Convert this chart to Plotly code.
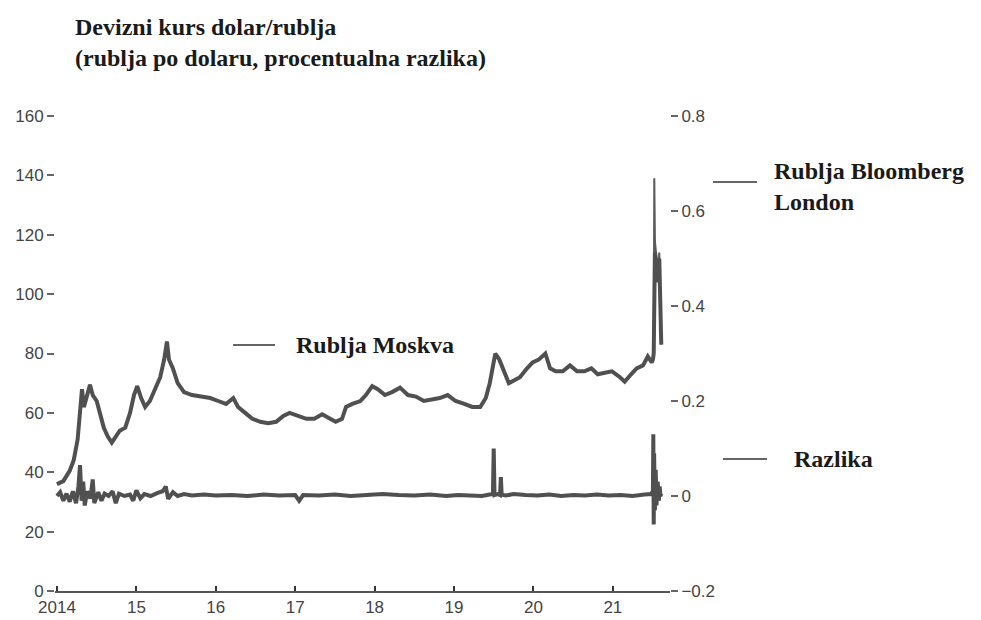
import plotly.graph_objects as go

# ---- data (decimal years) ----
moscow_t = [2014.00, 2014.08, 2014.16, 2014.21, 2014.26, 2014.29, 2014.315, 2014.34, 2014.38, 2014.415,
            2014.45, 2014.50, 2014.54, 2014.59, 2014.64, 2014.69, 2014.74, 2014.79, 2014.86, 2014.92,
            2014.97, 2015.01, 2015.06, 2015.11, 2015.17, 2015.23, 2015.30, 2015.35, 2015.385, 2015.41,
            2015.46, 2015.52, 2015.60, 2015.70, 2015.80, 2015.93, 2016.03, 2016.13, 2016.22, 2016.28,
            2016.37, 2016.46, 2016.56, 2016.66, 2016.76, 2016.85, 2016.93, 2017.04, 2017.14, 2017.24,
            2017.34, 2017.44, 2017.51, 2017.59, 2017.64, 2017.72, 2017.82, 2017.89, 2017.97, 2018.04,
            2018.13, 2018.22, 2018.32, 2018.42, 2018.52, 2018.62, 2018.72, 2018.82, 2018.92, 2019.02,
            2019.13, 2019.23, 2019.33, 2019.40, 2019.45, 2019.52, 2019.57, 2019.63, 2019.69, 2019.76,
            2019.83, 2019.92, 2019.99, 2020.07, 2020.15, 2020.21, 2020.28, 2020.37, 2020.46, 2020.55,
            2020.64, 2020.73, 2020.81, 2020.90, 2020.99, 2021.09, 2021.15, 2021.23, 2021.30, 2021.38,
            2021.44, 2021.49, 2021.505, 2021.515, 2021.522, 2021.53, 2021.55, 2021.57, 2021.585, 2021.595,
            2021.605, 2021.61]
moscow_v = [36, 37, 40.5, 44, 51, 60, 68, 62, 66, 69.5,
            66, 64, 60, 55, 52, 50, 52, 54, 55, 60,
            66, 69, 65, 62, 64, 68, 72, 78, 84, 78,
            75, 70, 67, 66, 65.5, 65, 64, 63, 65, 62,
            60, 58, 57, 56.5, 57, 59, 60, 59, 58, 58,
            59.5, 58, 57, 58, 62, 63, 64, 66, 69, 68,
            66, 67, 68.5, 66, 65.5, 64, 64.5, 65, 66, 64,
            63, 62, 62, 65, 70, 80, 78, 74, 70, 71,
            72, 75, 77, 78, 80, 75, 74, 74, 76, 74,
            74, 75, 73, 73.5, 74, 72, 70.5, 73, 75, 76,
            79, 77, 78, 80, 100, 114, 110, 104, 112, 95,
            84, 83]
london_v = [36, 37, 40.5, 44, 51, 60, 68, 62, 66, 69.5,
            66, 64, 60, 55, 52, 50, 52, 54, 55, 60,
            66, 69, 65, 62, 64, 68, 72, 78, 84, 78,
            75, 70, 67, 66, 65.5, 65, 64, 63, 65, 62,
            60, 58, 57, 56.5, 57, 59, 60, 59, 58, 58,
            59.5, 58, 57, 58, 62, 63, 64, 66, 69, 68,
            66, 67, 68.5, 66, 65.5, 64, 64.5, 65, 66, 64,
            63, 62, 62, 65, 70, 80, 78, 74, 70, 71,
            72, 75, 77, 78, 80, 75, 74, 74, 76, 74,
            74, 75, 73, 73.5, 74, 72, 70.5, 73, 75, 76,
            79, 77, 78, 80, 139, 118, 112, 106, 114, 96,
            84, 83]

diff_t = [2014.00, 2014.04, 2014.08, 2014.12, 2014.16, 2014.20, 2014.24, 2014.27, 2014.29, 2014.31,
          2014.33, 2014.35, 2014.38, 2014.42, 2014.45, 2014.47, 2014.52, 2014.56, 2014.60, 2014.65,
          2014.70, 2014.74, 2014.78, 2014.85, 2014.92, 2014.96, 2015.00, 2015.05, 2015.10, 2015.18,
          2015.26, 2015.33, 2015.37, 2015.40, 2015.46, 2015.52, 2015.60, 2015.70, 2015.85, 2016.00,
          2016.20, 2016.40, 2016.60, 2016.80, 2017.00, 2017.05, 2017.10, 2017.30, 2017.50, 2017.70,
          2017.90, 2018.10, 2018.30, 2018.50, 2018.70, 2018.90, 2019.05, 2019.20, 2019.35, 2019.45,
          2019.49, 2019.50, 2019.51, 2019.55, 2019.58, 2019.59, 2019.60, 2019.65, 2019.75, 2019.90,
          2020.05, 2020.20, 2020.35, 2020.50, 2020.65, 2020.80, 2020.95, 2021.10, 2021.25, 2021.40,
          2021.48, 2021.505, 2021.51, 2021.515, 2021.52, 2021.53, 2021.54, 2021.55, 2021.565, 2021.58,
          2021.59, 2021.60, 2021.61]
diff_v = [0.0, 0.008, -0.01, 0.005, -0.012, 0.01, -0.015, 0.02, 0.065, -0.01,
          0.03, -0.02, 0.01, -0.005, 0.035, -0.015, 0.008, -0.01, 0.005, 0.0,
          0.01, -0.015, 0.005, 0.0, 0.003, -0.01, 0.012, -0.005, 0.004, 0.0,
          0.006, 0.01, 0.02, -0.006, 0.008, 0.0, 0.004, 0.001, 0.003, 0.001,
          0.002, 0.0, 0.003, 0.001, 0.002, -0.01, 0.002, 0.001, 0.003, 0.0,
          0.002, 0.004, 0.002, 0.001, 0.003, 0.0, 0.002, 0.001, 0.0, 0.003,
          0.004, 0.10, 0.002, 0.004, 0.002, 0.04, 0.003, 0.001, 0.004, 0.002,
          0.001, 0.003, 0.0, 0.002, 0.001, 0.003, 0.001, 0.002, 0.0, 0.003,
          0.004, 0.01, 0.13, -0.06, 0.09, -0.03, 0.055, -0.02, 0.03, -0.01,
          0.02, 0.0, 0.005]

year_ticks = [2014, 2015, 2016, 2017, 2018, 2019, 2020, 2021]
year_labels = ["2014", "15", "16", "17", "18", "19", "20", "21"]
left_ticks = [0, 20, 40, 60, 80, 100, 120, 140, 160]
right_ticks = [-0.2, 0, 0.2, 0.4, 0.6, 0.8]
right_labels = ["\u22120.2", "0", "0.2", "0.4", "0.6", "0.8"]

LINE = "#505050"
TXT = "#444444"

fig = go.Figure()
fig.add_trace(go.Scatter(x=moscow_t, y=london_v, mode="lines", name="Rublja Bloomberg London",
                         line=dict(color="#5a5a5a", width=2)))
fig.add_trace(go.Scatter(x=moscow_t, y=moscow_v, mode="lines", name="Rublja Moskva",
                         line=dict(color=LINE, width=4)))
fig.add_trace(go.Scatter(x=diff_t, y=diff_v, mode="lines", name="Razlika", yaxis="y2",
                         line=dict(color=LINE, width=4)))

# the page body has an 8px margin: the figure starts at (8, 8) of the window
OFF = 8
WIN_W, WIN_H = 981, 620
PL, PR, PT, PB = 55, 670, 116, 591          # plot box in window pixels
W, H = WIN_W - OFF, WIN_H - OFF
L, R, T, B = PL - OFF, WIN_W - PR, PT - OFF, WIN_H - PB
pw, ph = PR - PL, PB - PT


def px(x):
    return (x - PL) / pw


def py(y):
    return (PB - y) / ph


fig.update_layout(
    template="none",
    width=W, height=H,
    margin=dict(l=L, r=R, t=T, b=B, autoexpand=False),
    paper_bgcolor="white", plot_bgcolor="white",
    showlegend=False,
    xaxis=dict(range=[2013.975, 2021.72], tickvals=year_ticks, ticktext=year_labels, automargin=False,
               showgrid=False, zeroline=False, showline=True, linecolor="#555555", linewidth=2,
               ticks="inside", ticklen=5, tickwidth=2, tickcolor="#333333",
               tickfont=dict(family="Liberation Sans", size=17, color=TXT)),
    yaxis=dict(range=[0, 160], tickvals=left_ticks, showgrid=False, zeroline=False, showline=False,
               automargin=False, ticks="outside", ticklen=7, tickwidth=1.5, tickcolor="#666666",
               tickfont=dict(family="Liberation Sans", size=17, color=TXT)),
    yaxis2=dict(range=[-0.2, 0.8], tickvals=right_ticks, ticktext=right_labels, overlaying="y",
                side="right", showgrid=False, zeroline=False, showline=False, automargin=False,
                ticks="outside", ticklen=7, tickwidth=1.5, tickcolor="#666666",
                tickfont=dict(family="Liberation Sans", size=17, color=TXT)),
)

serif = "Liberation Serif"
FS = 24
fig.add_annotation(xref="paper", yref="paper", x=px(73), y=py(12), xanchor="left", yanchor="top",
                   align="left", showarrow=False,
                   text="<b>Devizni kurs dolar/rublja<br>(rublja po dolaru, procentualna razlika)</b>",
                   font=dict(family=serif, size=FS, color="#1a1a1a"))

labels = [
    (233, 275, 345, 294, "<b>Rublja Moskva</b>"),
    (713, 757, 182, 772, "<b>Rublja Bloomberg<br>London</b>"),
    (723, 767, 459, 792, "<b>Razlika</b>"),
]
for x0, x1, yy, xt, txt in labels:
    fig.add_shape(type="line", xref="paper", yref="paper", x0=px(x0), x1=px(x1), y0=py(yy), y1=py(yy),
                  line=dict(color="#666666", width=2))
    if "<br>" in txt:
        fig.add_annotation(xref="paper", yref="paper", x=px(xt), y=py(yy - 26), xanchor="left",
                           yanchor="top", align="left", showarrow=False, text=txt,
                           font=dict(family=serif, size=FS, color="#1a1a1a"))
    else:
        fig.add_annotation(xref="paper", yref="paper", x=px(xt), y=py(yy), xanchor="left",
                           yanchor="middle", align="left", showarrow=False, text=txt,
                           font=dict(family=serif, size=FS, color="#1a1a1a"))

fig.write_html("out.html")
